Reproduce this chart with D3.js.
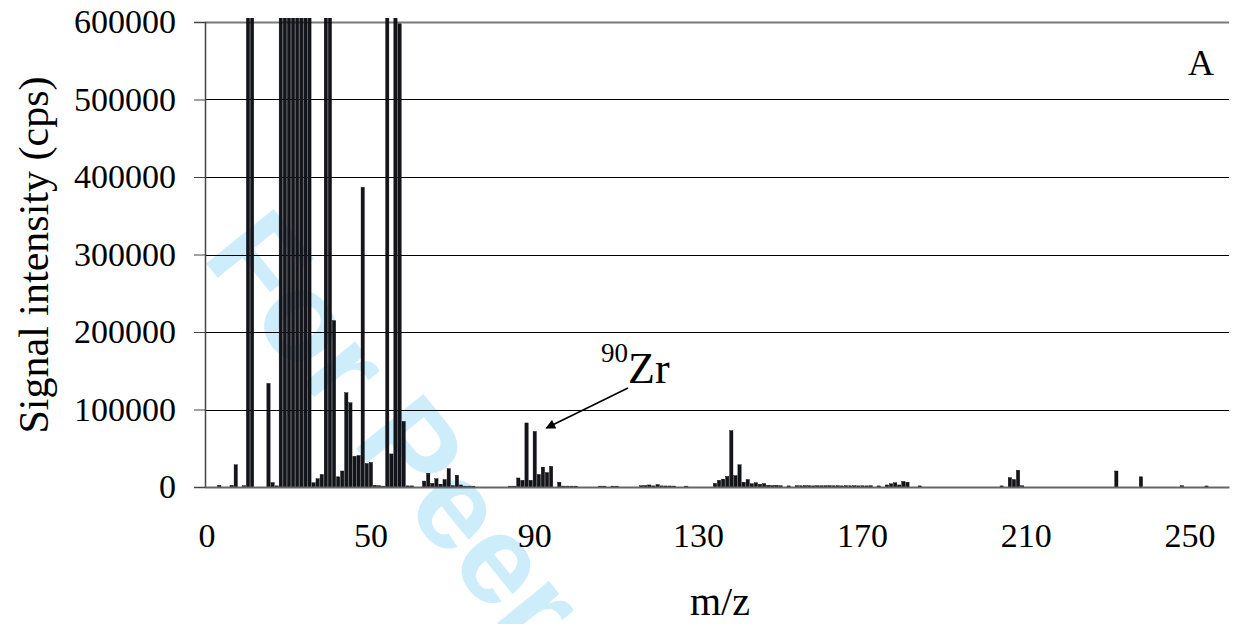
<!DOCTYPE html>
<html>
<head>
<meta charset="utf-8">
<script src="https://cdn.jsdelivr.net/npm/d3@7"></script>
<style>
  body { margin: 0; background: #fff; }
</style>
</head>
<body>
<div id="chart"></div>
<script>
// m/z categories (first category is 0, then 11..259)
var mz = [0].concat(d3.range(11, 260));

// signal intensity (cps) per category; off-scale peaks clipped at top
var intensity = [
  0, 0, 0, 1500, 0, 0, 1500, 28000, 0, 1000,                       // 0-9
  2500000, 1800000, 0, 0, 0, 133000, 5000, 800, 3000000, 2200000,   // 10-19
  1500000, 900000, 2500000, 1100000, 800000, 1300000, 4800, 10000, 15500, 1400000, // 20-29
  3500000, 214000, 12500, 20000, 121000, 108000, 39000, 40000, 386000, 29700,     // 30-39
  31000, 1500, 1000, 500, 700000, 42000, 2000000, 597000, 84000, 800,            // 40-49
  800, 0, 0, 7000, 17000, 4000, 10000, 3000, 9000, 23000,          // 50-59
  1000, 14500, 2000, 500, 500, 500, 0, 0, 0, 0,                    // 60-69
  0, 0, 0, 0, 500, 500, 11000, 8000, 82000, 8000,                  // 70-79
  71000, 15500, 25000, 18000, 26000, 0, 5500, 500, 500, 500,       // 80-89
  500, 0, 0, 0, 0, 0, 500, 500, 0, 500,                            // 90-99
  500, 0, 0, 0, 0, 0, 1000, 1200, 2000, 800,                       // 100-109
  2500, 800, 700, 700, 600, 0, 0, 500, 0, 0,                       // 110-119
  0, 0, 0, 0, 4000, 8000, 9500, 13000, 72000, 14000,               // 120-129
  28000, 5500, 9000, 3500, 4800, 3000, 3800, 1500, 1200, 1500,     // 130-139
  1000, 0, 800, 0, 1000, 900, 1100, 1000, 800, 1000,               // 140-149
  900, 1000, 1100, 900, 1000, 800, 1000, 900, 1000, 800,           // 150-159
  900, 800, 1000, 0, 800, 0, 2000, 3500, 4800, 2000,               // 160-169
  6500, 5500, 0, 0, 800, 0, 0, 0, 0, 0,                            // 170-179
  0, 0, 0, 0, 0, 0, 0, 0, 0, 0,                                    // 180-189
  0, 0, 0, 0, 800, 0, 11500, 9000, 21000, 1000,                    // 190-199
  0, 0, 0, 0, 0, 0, 0, 0, 0, 0,                                    // 200-209
  0, 0, 0, 0, 0, 0, 0, 0, 0, 0,                                    // 210-219
  0, 0, 20000, 0, 0, 0, 0, 0, 12500, 0,                            // 220-229
  0, 0, 0, 0, 0, 0, 0, 0, 1000, 0,                                 // 230-239
  0, 0, 0, 0, 700, 0, 0, 0, 0, 0                                   // 240-249
];

var yTicks = [0, 100000, 200000, 300000, 400000, 500000, 600000];

var serif = "'Liberation Serif', 'Times New Roman', Times, serif";

var W = 1233, H = 624;
var margin = {top: 22, right: 4, bottom: 137, left: 205};
var width = W - margin.left - margin.right;
var height = H - margin.top - margin.bottom;

var svg = d3.select("#chart").append("svg")
    .attr("width", W)
    .attr("height", H);

// watermark behind the chart
svg.append("text")
    .attr("transform", "translate(201,257) rotate(51)")
    .attr("font-family", "'Liberation Sans', Arial, sans-serif")
    .attr("font-weight", "bold")
    .attr("font-size", 126)
    .attr("fill", "#cdedfb")
    .text("For Peer Review");

var g = svg.append("g")
    .attr("transform", "translate(" + margin.left + "," + margin.top + ")");

var x = d3.scaleBand()
    .domain(d3.range(mz.length))
    .range([0, width])
    .paddingInner(0.2)
    .paddingOuter(0.1);

var y = d3.scaleLinear()
    .domain([0, 600000])
    .range([height, 0]);

// gridlines
g.append("g")
    .selectAll("line")
    .data(yTicks.slice(1))
    .join("line")
    .attr("x1", 0)
    .attr("x2", width)
    .attr("y1", d => Math.round(y(d)) + 0.5)
    .attr("y2", d => Math.round(y(d)) + 0.5)
    .attr("stroke", d => d == 600000 ? "#7a7a7a" : "#000")
    .attr("stroke-width", d => d == 600000 ? 2 : 1);

svg.append("clipPath")
    .attr("id", "clip")
    .append("rect")
    .attr("x", 0)
    .attr("y", -4)
    .attr("width", width)
    .attr("height", height + 4);

// bars
g.append("g")
    .attr("clip-path", "url(#clip)")
    .selectAll("rect")
    .data(intensity)
    .join("rect")
    .attr("x", (d, i) => x(i))
    .attr("y", d => y(d) - 0.5)
    .attr("width", x.bandwidth())
    .attr("height", d => d > 0 ? Math.max(height - y(d) + 0.5, 1.5) : 0)
    .attr("fill", "#14141c")
    .attr("stroke", "#000")
    .attr("stroke-width", 0.4);

// y axis
var yAxis = g.append("g")
    .attr("font-family", serif)
    .attr("font-size", 34)
    .call(d3.axisLeft(y)
      .tickValues(yTicks)
      .tickFormat(d3.format("d"))
      .tickSize(11)
      .tickPadding(18));
yAxis.attr("font-family", serif).attr("font-size", 34);
yAxis.select(".domain").attr("stroke", "#444").attr("stroke-width", 1.5);
yAxis.selectAll(".tick line").attr("stroke", "#444");

// x axis
var xAxis = g.append("g")
    .attr("transform", "translate(0," + height + ")")
    .call(d3.axisBottom(x)
      .tickValues(d3.range(mz.length).filter(i => i % 40 == 0))
      .tickFormat(i => mz[i])
      .tickSize(0)
      .tickPadding(36));
xAxis.attr("font-family", serif).attr("font-size", 34);
xAxis.select(".domain").attr("stroke", "#666").attr("stroke-width", 2);

// axis titles
svg.append("text")
    .attr("x", 720)
    .attr("y", 615)
    .attr("text-anchor", "middle")
    .attr("font-family", serif)
    .attr("font-size", 40)
    .text("m/z");

svg.append("text")
    .attr("transform", "translate(48,255) rotate(-90)")
    .attr("text-anchor", "middle")
    .attr("font-family", serif)
    .attr("font-size", 42)
    .text("Signal intensity (cps)");

// panel letter
svg.append("text")
    .attr("x", 1201)
    .attr("y", 75)
    .attr("text-anchor", "middle")
    .attr("font-family", serif)
    .attr("font-size", 36)
    .text("A");

// 90Zr annotation
var zrLabel = svg.append("text")
    .attr("x", 601)
    .attr("y", 383)
    .attr("font-family", serif);
zrLabel.append("tspan")
    .attr("dy", -21)
    .attr("font-size", 27)
    .text("90");
zrLabel.append("tspan")
    .attr("dy", 21)
    .attr("font-size", 44)
    .text("Zr");

svg.append("defs").append("marker")
    .attr("id", "arrow")
    .attr("viewBox", "0 0 10 10")
    .attr("refX", 9)
    .attr("refY", 5)
    .attr("markerWidth", 7)
    .attr("markerHeight", 6)
    .attr("orient", "auto")
    .attr("markerUnits", "strokeWidth")
    .append("path")
    .attr("d", "M0,0 L10,5 L0,10 z")
    .attr("fill", "#000");

var zrIndex = mz.indexOf(90);
svg.append("line")
    .attr("x1", 628)
    .attr("y1", 388)
    .attr("x2", margin.left + x(zrIndex) + x.bandwidth() + 10)
    .attr("y2", margin.top + y(intensity[zrIndex]) - 4)
    .attr("stroke", "#000")
    .attr("stroke-width", 1.6)
    .attr("marker-end", "url(#arrow)");
</script>
</body>
</html>
